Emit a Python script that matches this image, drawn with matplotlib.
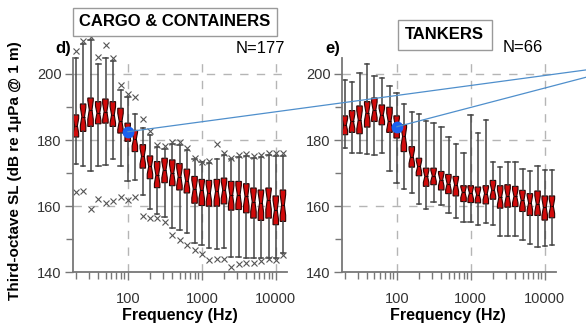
import matplotlib
matplotlib.use("Agg")
import numpy as np
from matplotlib import pyplot as plt
from matplotlib.patches import ConnectionPatch
from matplotlib.ticker import FixedLocator, NullFormatter

plt.rcParams["font.family"] = ["Liberation Sans", "DejaVu Sans"]

# third-octave band centre frequencies (Hz)
bands = [20, 25, 31.5, 40, 50, 63, 80, 100, 125, 160, 200, 250, 315, 400, 500,
         630, 800, 1000, 1250, 1600, 2000, 2500, 3150, 4000, 5000, 6300, 8000,
         10000, 12500]

# cargo & containers (N=177), dB re 1uPa @ 1 m
cargo_whishi = [204.7, 209.0, 210.3, 202.9, 204.7, 204.0, 195.2, 193.0, 188.0, 183.6,
                181.6, 177.9, 177.2, 178.9, 178.6, 177.0, 174.2, 173.3, 173.0, 174.2,
                175.5, 174.2, 175.0, 175.2, 174.5, 174.8, 175.5, 175.2, 175.2]
cargo_q3 = [187.6, 190.9, 192.7, 191.6, 192.4, 191.6, 189.6, 185.1, 182.9, 178.6,
            175.2, 173.5, 174.5, 174.0, 172.9, 171.2, 169.0, 168.1, 167.8, 168.1,
            168.5, 167.5, 167.5, 166.8, 165.5, 164.9, 165.5, 163.1, 164.9]
cargo_med = [184.3, 187.1, 189.1, 188.1, 188.6, 187.6, 185.6, 182.6, 180.3, 175.1,
             172.0, 169.4, 171.0, 170.0, 168.9, 167.7, 165.2, 164.9, 164.0, 164.5,
             164.9, 163.3, 163.5, 163.0, 161.4, 161.1, 162.0, 158.9, 160.4]
cargo_q1 = [180.9, 182.6, 184.1, 184.9, 185.1, 184.1, 182.1, 179.6, 176.5, 171.5,
            168.3, 165.6, 167.1, 166.2, 164.9, 164.0, 160.9, 160.2, 160.0, 160.0,
            160.7, 158.8, 159.0, 158.0, 156.4, 155.7, 156.4, 154.4, 155.4]
cargo_whislo = [172.8, 172.0, 170.5, 172.2, 172.5, 174.2, 172.2, 167.5, 167.8, 163.5,
                159.1, 157.5, 156.7, 153.4, 152.9, 151.9, 148.8, 148.3, 147.5, 147.2,
                147.5, 144.7, 144.7, 144.4, 144.4, 144.4, 144.4, 144.4, 145.9]
cargo_flier_hi = [207.0, 210.0, 211.1, 205.0, 208.8, 204.7, 196.7, 194.0, 193.0, 186.2,
                  182.6, 178.4, 178.3, 179.5, 179.3, 177.5, 174.7, 173.5, 173.8, 178.9,
                  176.0, 174.5, 175.5, 175.8, 175.2, 175.5, 176.0, 176.0, 176.0]
cargo_flier_lo = [164.4, 164.6, 159.1, 162.1, 161.0, 161.6, 162.8, 161.8, 162.7, 157.1,
                  156.4, 156.4, 155.1, 151.4, 149.9, 148.4, 146.7, 145.6, 143.6, 144.1,
                  144.1, 141.7, 142.4, 142.9, 142.9, 143.4, 143.9, 143.7, 145.3]

# tankers (N=66)
tank_whishi = [198.0, 197.5, 200.4, 203.0, 199.2, 198.8, 196.4, 194.1, 190.9, 188.6,
               187.8, 185.6, 185.0, 183.8, 180.9, 178.9, 176.0, 187.7, 182.0, 185.9,
               173.3, 171.8, 173.3, 173.3, 171.2, 170.5, 172.2, 170.8, 171.0]
tank_q3 = [187.3, 188.9, 190.3, 191.6, 192.7, 190.6, 189.9, 187.3, 184.6, 178.0,
           174.5, 171.5, 171.5, 170.5, 169.6, 169.0, 166.2, 166.2, 165.8, 166.2,
           167.8, 166.2, 166.5, 166.0, 164.8, 163.8, 164.6, 163.1, 163.1]
tank_med = [184.6, 185.6, 186.1, 188.3, 189.1, 187.6, 185.6, 184.3, 181.1, 175.0,
            172.0, 169.0, 169.2, 168.0, 166.8, 166.5, 164.2, 164.0, 163.5, 163.8,
            164.9, 162.7, 163.1, 163.0, 161.8, 161.0, 160.7, 159.7, 160.0]
tank_q1 = [181.6, 182.3, 181.9, 183.9, 185.6, 184.6, 182.3, 180.6, 176.5, 171.8,
           169.2, 166.0, 166.5, 164.9, 163.8, 163.1, 161.4, 161.1, 161.0, 160.7,
           162.1, 159.4, 159.7, 159.9, 158.4, 157.2, 157.2, 155.8, 156.5]
tank_whislo = [177.6, 176.2, 176.0, 175.7, 175.5, 176.0, 170.5, 167.0, 165.3, 164.0,
               160.7, 159.1, 161.4, 160.3, 158.0, 156.5, 155.3, 155.3, 154.2, 154.9,
               154.2, 151.0, 151.0, 150.9, 149.9, 148.6, 147.6, 147.9, 148.3]

# highlighted 100 Hz value (blue dot) in each panel
dot_freq = 100
cargo_dot = 182.5
tank_dot = 184.0

panels = [
    dict(title="CARGO & CONTAINERS", tag="d)", n="N=177",
         whishi=cargo_whishi, q3=cargo_q3, med=cargo_med, q1=cargo_q1,
         whislo=cargo_whislo, fhi=cargo_flier_hi, flo=cargo_flier_lo, dot=cargo_dot),
    dict(title="TANKERS", tag="e)", n="N=66",
         whishi=tank_whishi, q3=tank_q3, med=tank_med, q1=tank_q1,
         whislo=tank_whislo, fhi=None, flo=None, dot=tank_dot),
]

NOTCH = 0.33  # notch half-height as a fraction of the IQR


def make_stats(p):
    stats = []
    for i, f in enumerate(bands):
        iqr = p["q3"][i] - p["q1"][i]
        fl = []
        if p["fhi"] is not None:
            fl = [p["fhi"][i], p["flo"][i]]
        stats.append(dict(med=p["med"][i], q1=p["q1"][i], q3=p["q3"][i],
                          whislo=p["whislo"][i], whishi=p["whishi"][i],
                          cilo=p["med"][i] - NOTCH * iqr,
                          cihi=p["med"][i] + NOTCH * iqr,
                          fliers=fl))
    return stats


fig = plt.figure(figsize=(5.86, 3.33), dpi=100)
lefts = [0.124, 0.583]
axes = []
f = np.array(bands)
gray = "#777777"

for p, left in zip(panels, lefts):
    ax = fig.add_axes([left, 0.182, 0.366, 0.644])
    ax.set_xscale("log")
    ax.bxp(make_stats(p), positions=bands, widths=list(f * 0.17),
           capwidths=list(f * 0.14), shownotches=True, patch_artist=True,
           manage_ticks=False,
           boxprops=dict(facecolor="#d10a0a", edgecolor="#2a0303", linewidth=0.8),
           medianprops=dict(color="#2a0303", linewidth=0.8),
           whiskerprops=dict(color="#444444", linewidth=1.1),
           capprops=dict(color="#444444", linewidth=1.1),
           flierprops=dict(marker="x", markersize=4.3, markeredgecolor="#555555",
                           markeredgewidth=0.8, linestyle="none"))
    for art in ax.get_children():
        art.set_clip_on(False)
    ax.set_xlim(18, 14200)
    ax.set_ylim(140, 204.8)
    ax.set_axisbelow(True)
    ax.grid(True, which="major", linestyle=(0, (6, 6)), color="#b5b5b5", linewidth=1)
    ax.xaxis.set_major_locator(FixedLocator([100, 1000, 10000]))
    ax.set_xticklabels(["100", "1000", "10000"])
    ax.xaxis.set_minor_locator(FixedLocator(
        [m * d for d in (10, 100, 1000) for m in range(2, 10)]))
    ax.xaxis.set_minor_formatter(NullFormatter())
    ax.set_yticks([140, 160, 180, 200])
    ax.set_yticks([150, 170, 190], minor=True)
    ax.tick_params(which="both", direction="out", color=gray, width=1,
                   labelsize=10.5, labelcolor="#333333")
    ax.tick_params(which="major", length=6, pad=8)
    ax.tick_params(which="minor", length=5)
    ax.tick_params(axis="y", which="major", pad=2)
    for s in ("top", "right"):
        ax.spines[s].set_visible(False)
    for s in ("left", "bottom"):
        ax.spines[s].set_color(gray)
        ax.spines[s].set_linewidth(1.3)
    ax.plot([dot_freq], [p["dot"]], "o", color="#1a62f0", markersize=7.5,
            zorder=6, clip_on=False)
    axes.append(ax)

# panel titles, tags and counts
fig.text(0.2986, 0.934, panels[0]["title"], ha="center", va="center",
         fontsize=12, fontweight="bold",
         bbox=dict(boxstyle="square,pad=0.4", fc="white", ec="#9a9a9a", lw=1))
fig.text(0.759, 0.896, panels[1]["title"], ha="center", va="center",
         fontsize=12, fontweight="bold",
         bbox=dict(boxstyle="square,pad=0.45", fc="white", ec="#9a9a9a", lw=1))
fig.text(0.094, 0.853, panels[0]["tag"], ha="left", va="center",
         fontsize=12, fontweight="bold")
fig.text(0.555, 0.854, panels[1]["tag"], ha="left", va="center",
         fontsize=12, fontweight="bold")
fig.text(0.486, 0.853, panels[0]["n"], ha="right", va="center", fontsize=12)
fig.text(0.857, 0.856, panels[1]["n"], ha="left", va="center", fontsize=12)

for x in (0.307, 0.765):
    fig.text(x, 0.054, "Frequency (Hz)", ha="center", va="center",
             fontsize=11.5, fontweight="bold")
fig.text(0.026, 0.489, "Third-octave SL (dB re 1µPa @ 1 m)", ha="center",
         va="center", rotation=90, fontsize=11, fontweight="bold")

# lines from the 100 Hz dots out to the right edge
for ax, p, yb in zip(axes, panels, (0.79, 0.768)):
    con = ConnectionPatch(xyA=(dot_freq, p["dot"]), coordsA=ax.transData,
                          xyB=(1.0, yb), coordsB="figure fraction",
                          color="#4f8fcc", linewidth=0.9, zorder=7)
    fig.add_artist(con)

fig.savefig("out.png", dpi=100)
